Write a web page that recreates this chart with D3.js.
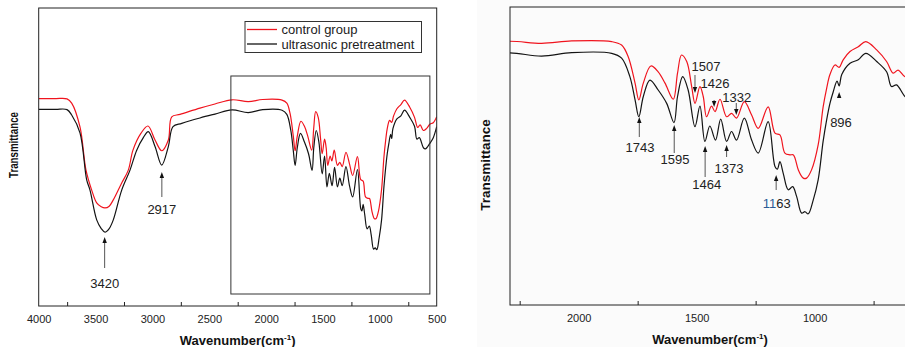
<!DOCTYPE html>
<html><head><meta charset="utf-8">
<script src="https://cdn.jsdelivr.net/npm/d3@7"></script>
<style>body{margin:0;background:#fff}svg{display:block;font-family:Arial,"Liberation Sans",sans-serif}</style>
</head><body>
<svg id="c" width="905" height="347"></svg>
<script>
// ---- data (wavenumber cm-1, transmittance arbitrary units) ----
const wnControl = [4000,3850,3751,3710,3637,3584,3534,3490,3450,3417,3380,3344,3270,3212,3171,3100,3039,2977,2918,2860,2830,2757,2582,2450,2300,2157,2030,1860,1818,1790,1761,1745,1726,1694,1663,1634,1599,1581,1564,1542,1521,1507,1486,1472,1458,1437,1422,1401,1373,1352,1331,1298,1267,1239,1197,1168,1147,1126,1105,1091,1083,1069,1048,1034,1013,985,964,949,935,914,896,879,850,815,783,737,695,667,646,617,588,560,530,500];
const tControl  = [69.6,69.6,69.5,68.1,60.1,45.6,38.9,34.6,33.3,32.9,33.5,35.6,41.3,45.6,52.3,58.0,60.4,55.7,52.1,55.7,63.5,64.3,66.4,67.8,69.2,68.6,69.3,69.1,68.1,64.7,57.0,52.1,57.0,62.0,60.3,57.0,52.3,59.9,65.2,63.3,56.0,51.1,56.0,53.1,47.2,50.3,48.7,52.3,47.2,48.2,46.8,51.6,47.7,43.8,50.1,42.4,41.9,36.6,36.1,36.1,35.1,31.7,29.3,29.3,31.7,39.0,50.0,55.5,59.5,62.3,61.6,63.8,66.2,67.6,69.1,66.7,63.3,59.9,60.8,58.9,59.6,61.0,61.5,63.5];
const wnUltra = [4000,3850,3751,3710,3637,3578,3549,3490,3450,3417,3380,3344,3270,3197,3138,3080,3036,2977,2918,2860,2819,2742,2582,2450,2300,2157,2030,1860,1818,1783,1761,1745,1726,1698,1663,1627,1596,1581,1559,1536,1507,1486,1465,1444,1420,1398,1373,1352,1331,1298,1267,1239,1197,1168,1158,1147,1133,1112,1093,1076,1055,1041,1027,1006,985,964,949,935,921,905,896,885,850,815,783,737,695,674,653,617,600,560,530,500];
const tUltra    = [66.0,66.0,65.9,64.1,58.1,42.3,38.9,28.9,26.0,24.8,26.0,28.9,38.9,45.6,52.3,56.5,58.5,53.5,47.3,53.5,60.2,61.3,63.1,64.4,65.8,64.9,65.9,65.7,64.3,58.9,52.1,47.2,53.1,57.9,55.0,51.1,45.5,53.1,58.9,55.0,44.3,50.3,40.0,44.5,40.4,46.5,40.0,42.9,40.4,46.8,40.4,36.6,45.8,32.7,31.9,34.1,30.7,25.9,26.8,23.9,19.1,19.5,18.9,22.9,28.8,40.0,46.3,51.1,54.5,57.6,56.2,59.5,62.8,63.8,65.7,63.3,60.3,56.0,56.5,53.1,52.7,54.6,56.5,60.2];
const seriesNames = ["control group","ultrasonic pretreatment"];
const leftTickLabels = [4000,3500,3000,2500,2000,1500,1000,500];
const leftMinorTicks = [3750,3250,2750,2250,1750,1250,750];
const rightTickLabels = [2000,1500,1000];
const rightMinorTicks = [2250,1750,1250,750];
const leftPeaks = [3420,2917];
const rightPeaksUp = [1743,1595,1464,1373,1163,896];
const rightPeaksDown = [1507,1426,1332];

// ---- layout ----
const svg = d3.select("#c");
const colors = ["#f0141e","#141414"];
const ctl = wnControl.map((w,i)=>({w,t:tControl[i]}));
const ult = wnUltra.map((w,i)=>({w,t:tUltra[i]}));

svg.append("rect").attr("x",477).attr("y",0).attr("width",428).attr("height",347).attr("fill","#fbfbfb");

const defs = svg.append("defs");
function arrowHead(g,x,y,dir){ // dir -1 up, +1 down; tip at (x,y)
  g.append("path").attr("d",`M${x},${y} L${x-2.2},${y-dir*6} L${x+2.2},${y-dir*6} Z`).attr("fill","#111");
}

function panel(opt){
  const g = svg.append("g");
  const x = d3.scaleLinear().domain(opt.xd).range(opt.xr);
  const y = d3.scaleLinear().domain(opt.yd).range(opt.yr);
  const id = "clip"+opt.name;
  defs.append("clipPath").attr("id",id).append("rect")
    .attr("x",opt.xr[0]).attr("y",opt.yr[1]).attr("width",opt.xr[1]-opt.xr[0]).attr("height",opt.yr[0]-opt.yr[1]);
  const line = d3.line().x(d=>x(d.w)).y(d=>y(d.t)).curve(d3.curveCatmullRom.alpha(0.5));
  const cg = g.append("g").attr("clip-path",`url(#${id})`);
  cg.append("path").datum(ctl).attr("d",line).attr("fill","none").attr("stroke",colors[0]).attr("stroke-width",1.2);
  cg.append("path").datum(ult).attr("d",line).attr("fill","none").attr("stroke",colors[1]).attr("stroke-width",1.2);
  g.append("rect").attr("x",opt.xr[0]).attr("y",opt.yr[1]).attr("width",opt.xr[1]-opt.xr[0]).attr("height",opt.yr[0]-opt.yr[1])
    .attr("fill","none").attr("stroke","#222").attr("stroke-width",1);
  const ax = g.append("g").attr("transform",`translate(0,${opt.yr[0]})`)
    .call(d3.axisBottom(x).tickValues(opt.labels).tickSize(0).tickPadding(9).tickFormat(d3.format("d")));
  ax.select(".domain").remove();
  ax.selectAll("text").attr("font-size",opt.tickFs).attr("fill","#222").attr("font-family","Arial, 'Liberation Sans', sans-serif");
  const mx = g.append("g").attr("transform",`translate(0,${opt.yr[0]})`)
    .call(d3.axisBottom(x).tickValues(opt.minor).tickSize(-4).tickFormat(""));
  mx.select(".domain").remove();
  mx.selectAll("line").attr("stroke","#222");
  const xt = g.append("text").attr("x",opt.xtX).attr("y",opt.xtY)
    .attr("text-anchor","middle").attr("font-weight","bold").attr("font-size",13).attr("fill","#111");
  xt.append("tspan").text("Wavenumber(cm");
  xt.append("tspan").text("-1").attr("font-size",8).attr("dy",-5);
  xt.append("tspan").text(")").attr("dy",5);
  const yt = g.append("text").attr("transform",`translate(${opt.ytX},${opt.ytY}) rotate(-90)`)
    .attr("text-anchor","middle").attr("font-weight","bold").attr("font-size",opt.ytFs).attr("fill","#111").text("Transmittance");
  if(opt.ytLen) yt.attr("textLength",opt.ytLen).attr("lengthAdjust","spacingAndGlyphs");
  return {g,x,y};
}

const L = panel({name:"L",xd:[4000,500],xr:[38.7,436.7],yd:[0,100],yr:[306,8],labels:leftTickLabels,minor:leftMinorTicks,
  tickFs:11,xtX:237.7,xtY:345,ytX:17.5,ytY:145,ytFs:12,ytLen:66});
const R = panel({name:"R",xd:[2291,600],xr:[510,909],yd:[-7.7,79.2],yr:[305,7],labels:rightTickLabels,minor:rightMinorTicks,
  tickFs:11,xtX:710,xtY:344,ytX:490,ytY:165,ytFs:13.5});

// inner rectangle (zoom region) in left panel
L.g.append("rect").attr("x",L.x(2310)).attr("y",76).attr("width",L.x(560)-L.x(2310)).attr("height",218)
  .attr("fill","none").attr("stroke","#333").attr("stroke-width",1);

// legend
const lg = L.g.append("g");
lg.append("rect").attr("x",245).attr("y",21.5).attr("width",176.5).attr("height",31).attr("fill","#fff").attr("stroke","#333");
seriesNames.forEach((n,i)=>{
  lg.append("line").attr("x1",247).attr("x2",277).attr("y1",29.5+i*14.5).attr("y2",29.5+i*14.5).attr("stroke",colors[i]).attr("stroke-width",1.3);
  lg.append("text").attr("x",281.5).attr("y",34+i*14.5).attr("font-size",13).attr("fill","#222").text(n);
});

// annotations
function up(P,wn,tip,tail,tx,ty,label,fill){
  const xx = P.x(wn);
  P.g.append("line").attr("x1",xx).attr("x2",xx).attr("y1",tip+5).attr("y2",tail).attr("stroke","#555").attr("stroke-width",1);
  arrowHead(P.g,xx,tip,-1);
  const t = P.g.append("text").attr("x",tx===null?xx:tx).attr("y",ty).attr("text-anchor","middle").attr("font-size",13).attr("fill","#222");
  if(fill){ t.append("tspan").text(label.slice(0,2)).attr("fill",fill); t.append("tspan").text(label.slice(2)); }
  else t.text(label);
}
function down(P,wn,tip,tail,tx,ty,label){
  const xx = P.x(wn);
  P.g.append("line").attr("x1",xx).attr("x2",xx).attr("y1",tail).attr("y2",tip-5).attr("stroke","#555").attr("stroke-width",1);
  arrowHead(P.g,xx,tip,1);
  P.g.append("text").attr("x",tx).attr("y",ty).attr("text-anchor","middle").attr("font-size",13).attr("fill","#222").text(label);
}
up(L,leftPeaks[0],237,268,null,288,String(leftPeaks[0]));
up(L,leftPeaks[1],172,197,null,214,String(leftPeaks[1]));

up(R,rightPeaksUp[0],117,137,640,152,String(rightPeaksUp[0]));
up(R,rightPeaksUp[1],125,153,675,164,String(rightPeaksUp[1]));
up(R,rightPeaksUp[2],146,177,706.7,189,String(rightPeaksUp[2]));
up(R,rightPeaksUp[3],145,157,729,173,String(rightPeaksUp[3]));
up(R,rightPeaksUp[4],175,190,776.7,208,String(rightPeaksUp[4]),"#2c5a96");
up(R,rightPeaksUp[5],92,98,841,126.5,String(rightPeaksUp[5]));
down(R,rightPeaksDown[0],93,75,706,70.5,String(rightPeaksDown[0]));
down(R,rightPeaksDown[1],107,100,715,87.5,String(rightPeaksDown[1]));
down(R,rightPeaksDown[2],115,103,736.7,102,String(rightPeaksDown[2]));
</script>
</body></html>
